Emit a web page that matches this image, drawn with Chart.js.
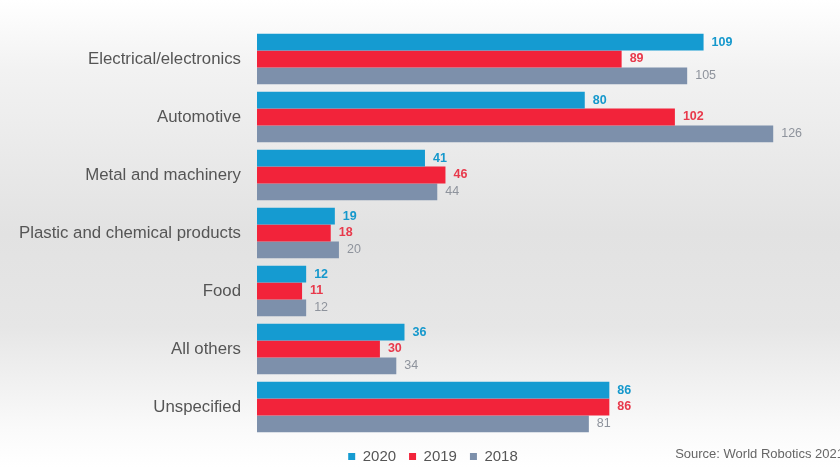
<!DOCTYPE html>
<html>
<head>
<meta charset="utf-8">
<script src="https://cdn.jsdelivr.net/npm/chart.js@4"></script>
<style>
  html, body { margin: 0; padding: 0; }
  body {
    width: 840px; height: 467px; overflow: hidden; position: relative;
    background: linear-gradient(to bottom, #ffffff 0%, #f2f2f2 15%, #e2e2e2 50%, #e6e6e6 70%, #fafafa 92%, #ffffff 100%);
    font-family: "Liberation Sans", Arial, sans-serif;
  }
  #wrap { position: absolute; left: 0; top: 0; width: 840px; height: 467px; }
  #source { position: absolute; right: -4px; top: 446px; font-size: 13px; color: #666; white-space: nowrap; }
</style>
</head>
<body>
<div id="wrap"><canvas id="myChart"></canvas></div>
<div id="source">Source: World Robotics 2021</div>
<script>
const categories = ['Electrical/electronics', 'Automotive', 'Metal and machinery', 'Plastic and chemical products', 'Food', 'All others', 'Unspecified'];
const values2020 = [109, 80, 41, 19, 12, 36, 86];
const values2019 = [89, 102, 46, 18, 11, 30, 86];
const values2018 = [105, 126, 44, 20, 12, 34, 81];
const seriesLabels = ['2020', '2019', '2018'];

const barColors = ['#159bd1', '#f2233a', '#7d90ab'];
const valueColors = ['#1598cc', '#e8394b', '#8e939c'];

// labels at the end of each bar
const valueLabels = {
    id: 'valueLabels',
    afterDatasetsDraw(chart) {
        const ctx = chart.ctx;
        ctx.save();
        ctx.textBaseline = 'middle';
        ctx.textAlign = 'left';
        chart.data.datasets.forEach((ds, i) => {
            const meta = chart.getDatasetMeta(i);
            ctx.fillStyle = valueColors[i];
            ctx.font = (i < 2 ? 'bold ' : '') + '12.5px "Liberation Sans", Arial, sans-serif';
            meta.data.forEach((bar, j) => {
                ctx.fillText(ds.data[j], bar.x + 8, bar.y);
            });
        });
        ctx.restore();
    }
};

var ctx = document.getElementById('myChart');
var chart = new Chart(ctx, {
    type: 'bar',
    data: {
        labels: categories,
        datasets: [
            { label: seriesLabels[0], data: values2020, backgroundColor: barColors[0] },
            { label: seriesLabels[1], data: values2019, backgroundColor: barColors[1] },
            { label: seriesLabels[2], data: values2018, backgroundColor: barColors[2] },
        ]
    },
    options: {
        indexAxis: 'y',
        responsive: true,
        maintainAspectRatio: false,
        animation: false,
        datasets: { bar: { barPercentage: 1, categoryPercentage: 0.87 } },
        layout: { padding: { top: 30, right: -26, left: 0, bottom: -7 } },
        scales: {
            x: { display: false, min: 0, max: 142.3 },
            y: {
                grid: { display: false },
                border: { display: false },
                ticks: {
                    padding: 8,
                    color: '#555',
                    font: { size: 16.8, family: '"Liberation Sans", Arial, sans-serif' }
                },
                afterFit(scale) { scale.width = 257; }
            }
        },
        plugins: {
            tooltip: { enabled: false },
            legend: {
                position: 'bottom',
                labels: {
                    boxWidth: 7,
                    boxHeight: 7,
                    padding: 13,
                    color: '#555',
                    font: { size: 15, family: '"Liberation Sans", Arial, sans-serif' }
                }
            }
        }
    },
    plugins: [valueLabels]
});
</script>
</body>
</html>
